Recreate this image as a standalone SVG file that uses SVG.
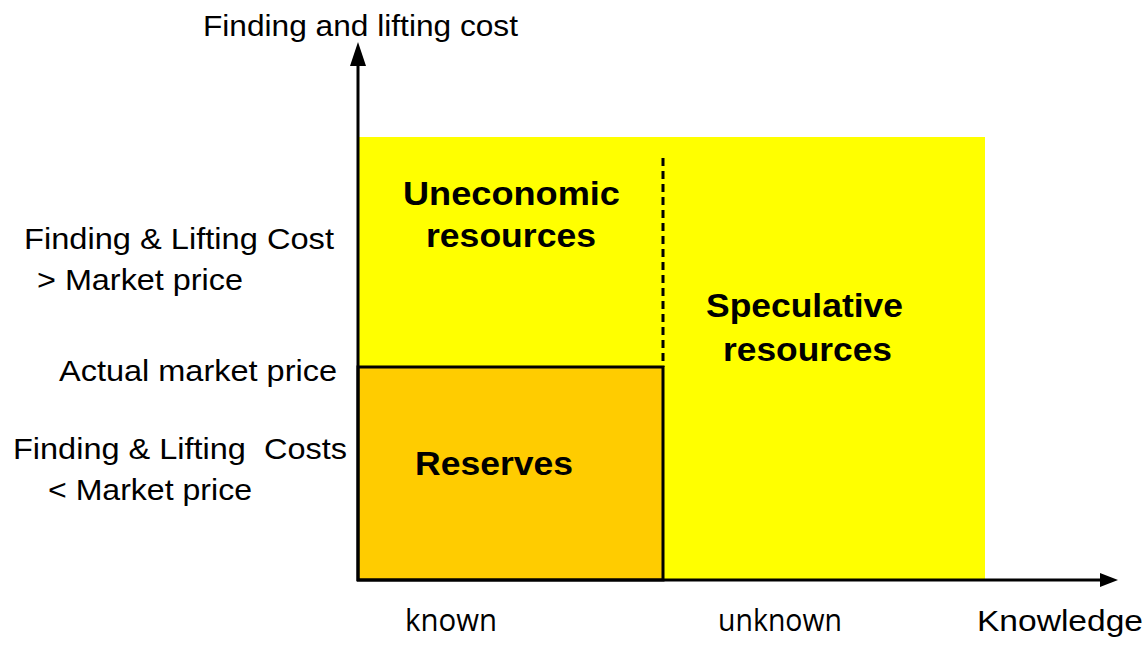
<svg xmlns="http://www.w3.org/2000/svg" width="1148" height="651" viewBox="0 0 1148 651">
<defs>
<style>
.t{font-family:"Liberation Sans",Arial,sans-serif;font-size:30px;fill:#000}
.o{font-family:"Open Sans","Liberation Sans",sans-serif;font-size:31px;fill:#000}
.b{font-family:"Liberation Sans",Arial,sans-serif;font-size:33px;font-weight:bold;fill:#000}
</style>
</defs>
<rect width="1148" height="651" fill="#fff"/>
<g id="speculative">
<rect x="358" y="137" width="627" height="443" fill="#ffff00"/>
<text class="b" x="706" y="317" textLength="197" lengthAdjust="spacingAndGlyphs">Speculative</text>
<text class="b" x="723" y="361" textLength="169" lengthAdjust="spacingAndGlyphs">resources</text>
</g>
<g id="uneconomic">
<text class="b" x="403" y="205" textLength="217" lengthAdjust="spacingAndGlyphs">Uneconomic</text>
<text class="b" x="426" y="247" textLength="170" lengthAdjust="spacingAndGlyphs">resources</text>
</g>
<g id="reserves">
<rect x="358" y="367" width="305" height="213" fill="#ffcc00" stroke="#000" stroke-width="3"/>
<text class="b" x="415" y="475" textLength="158" lengthAdjust="spacingAndGlyphs">Reserves</text>
</g>
<g id="connectors">
<line x1="663" y1="158" x2="663" y2="367" stroke="#000" stroke-width="3" stroke-dasharray="8,5"/>
<line x1="358" y1="581" x2="358" y2="60" stroke="#000" stroke-width="3"/>
<polygon points="358,42 350,66 366,66" fill="#000"/>
<line x1="357" y1="580" x2="1100" y2="580" stroke="#000" stroke-width="3"/>
<polygon points="1118,580 1100,573 1100,587" fill="#000"/>
</g>
<g id="labels">
<text class="t" x="203" y="36" textLength="315" lengthAdjust="spacingAndGlyphs">Finding and lifting cost</text>
<text class="t" x="24" y="249" textLength="310" lengthAdjust="spacingAndGlyphs">Finding &amp; Lifting Cost</text>
<text class="t" x="37" y="290" textLength="206" lengthAdjust="spacingAndGlyphs">&gt; Market price</text>
<text class="t" x="59" y="381" textLength="278" lengthAdjust="spacingAndGlyphs">Actual market price</text>
<text class="t" x="13" y="459" textLength="334" lengthAdjust="spacingAndGlyphs" xml:space="preserve">Finding &amp; Lifting  Costs</text>
<text class="t" x="48" y="500" textLength="204" lengthAdjust="spacingAndGlyphs">&lt; Market price</text>
<text class="o" x="405" y="631" textLength="92" lengthAdjust="spacingAndGlyphs">known</text>
<text class="o" x="718" y="631" textLength="124" lengthAdjust="spacingAndGlyphs">unknown</text>
<text class="t" x="977" y="631" textLength="166" lengthAdjust="spacingAndGlyphs">Knowledge</text>
</g>
</svg>
